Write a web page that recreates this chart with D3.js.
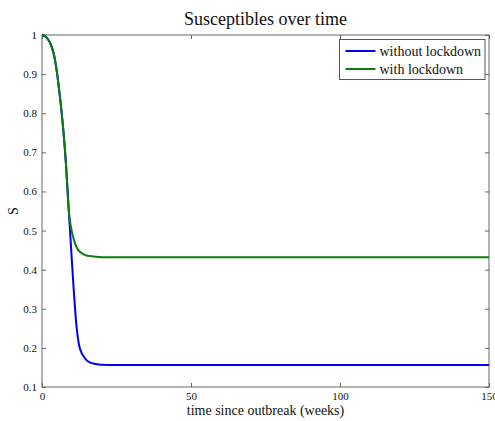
<!DOCTYPE html>
<html>
<head>
<meta charset="utf-8">
<script src="https://cdn.jsdelivr.net/npm/d3@7"></script>
<style>
  body { margin: 0; background: #fff; }
  text { font-family: "Liberation Serif", "Times New Roman", serif; fill: #111; }
</style>
</head>
<body>
<div id="chart"></div>
<script>
// values
var weeks     = [0, 1, 2, 3, 4, 5, 6, 7, 8, 9, 9.5, 10, 10.5, 11, 11.5, 12, 12.5, 13, 14, 15, 16, 18, 20, 25, 150];
var sWithout  = [1, .997, .989, .975, .95, .905, .843, .77, .675, .55, .488, .426, .365, .31, .262, .228, .205, .192, .178, .168, .163, .159, .157, .156, .156];
var sWith     = [1, .997, .989, .975, .95, .905, .843, .77, .675, .55, .518, .498, .482, .469, .459, .452, .447, .444, .439, .436, .435, .433, .432, .432, .432];
var seriesNames  = ["without lockdown", "with lockdown"];
var seriesColors = ["#0000f0", "#0a7d0a"];
var xTicks = [0, 50, 100, 150];
var yTicks = [0.1, 0.2, 0.3, 0.4, 0.5, 0.6, 0.7, 0.8, 0.9, 1];

var W = 495, H = 421;
var m = {left: 42, right: 6, top: 35, bottom: 34};

var svg = d3.select("#chart").append("svg")
    .attr("width", W)
    .attr("height", H);

var x = d3.scaleLinear().domain([0, 150]).range([m.left, W - m.right]);
var y = d3.scaleLinear().domain([0.1, 1]).range([H - m.bottom, m.top]);

// axes, ticks pointing inwards like matlab
var fmt = function(d){ return d3.format("~g")(d); };
var ax = [
  d3.axisLeft(y).tickValues(yTicks).tickFormat(fmt).tickSizeInner(-4).tickSizeOuter(0).tickPadding(5),
  d3.axisRight(y).tickValues(yTicks).tickFormat("").tickSizeInner(-4).tickSizeOuter(0),
  d3.axisBottom(x).tickValues(xTicks).tickFormat(fmt).tickSizeInner(-4).tickSizeOuter(0).tickPadding(5),
  d3.axisTop(x).tickValues(xTicks).tickFormat("").tickSizeInner(-4).tickSizeOuter(0)
];
var pos = ["translate(" + m.left + ",0)", "translate(" + (W - m.right) + ",0)",
           "translate(0," + (H - m.bottom) + ")", "translate(0," + m.top + ")"];
ax.forEach(function(a, i){
  var g = svg.append("g").attr("transform", pos[i]).call(a);
  g.select(".domain").remove();
  g.selectAll(".tick line").attr("stroke", "#666");
  g.selectAll(".tick text").attr("font-size", 11).attr("fill", "#222")
    .style("font-family", "'Liberation Serif', serif");
});

svg.append("rect")
    .attr("x", x(0)).attr("y", y(1))
    .attr("width", x(150) - x(0)).attr("height", y(0.1) - y(1))
    .attr("fill", "none").attr("stroke", "#666").attr("stroke-width", 1);

var line = d3.line().curve(d3.curveMonotoneX)
    .x(function(d){ return x(d[0]); })
    .y(function(d){ return y(d[1]); });

[sWithout, sWith].forEach(function(s, i){
  svg.append("path")
      .datum(d3.zip(weeks, s))
      .attr("d", line)
      .attr("fill", "none")
      .attr("stroke", seriesColors[i])
      .attr("stroke-width", 2);
});

// titles
svg.append("text")
    .attr("x", (x(0) + x(150)) / 2).attr("y", 25)
    .attr("text-anchor", "middle").attr("font-size", 18)
    .text("Susceptibles over time");

svg.append("text")
    .attr("x", (x(0) + x(150)) / 2).attr("y", 415)
    .attr("text-anchor", "middle").attr("font-size", 14)
    .text("time since outbreak (weeks)");

svg.append("text")
    .attr("transform", "translate(18," + (y(0.55)) + ") rotate(-90)")
    .attr("text-anchor", "middle").attr("font-size", 14)
    .text("S");

// legend
var leg = svg.append("g").attr("transform", "translate(339.5,39.5)");
leg.append("rect")
    .attr("width", 145.5).attr("height", 40)
    .attr("fill", "#fff").attr("stroke", "#555");
seriesNames.forEach(function(name, i){
  leg.append("line")
      .attr("x1", 6).attr("x2", 36)
      .attr("y1", 11.5 + i * 18).attr("y2", 11.5 + i * 18)
      .attr("stroke", seriesColors[i]).attr("stroke-width", 2);
  leg.append("text")
      .attr("x", 40).attr("y", 16 + i * 18)
      .attr("font-size", 14)
      .text(name);
});
</script>
</body>
</html>
